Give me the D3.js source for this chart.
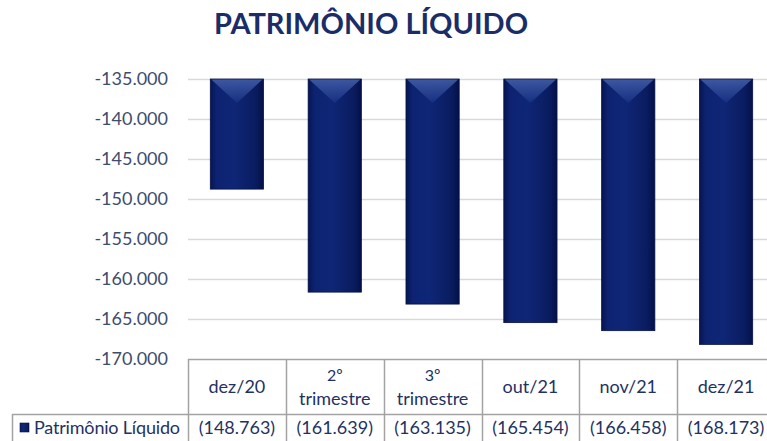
<!DOCTYPE html>
<html>
<head>
<meta charset="utf-8">
<script src="https://cdn.jsdelivr.net/npm/d3@7"></script>
<style>
  body { margin: 0; background: #fff; }
  svg { display: block; font-family: Lato, "Noto Sans", sans-serif; }
</style>
</head>
<body>
<svg width="767" height="441"></svg>
<script>
const TITLE = "PATRIMÔNIO LÍQUIDO";
const SERIES_NAME = "Patrimônio Líquido";
const categories = ["dez/20", "2º trimestre", "3º trimestre", "out/21", "nov/21", "dez/21"];
const categoryLines = [["dez/20"], ["2º", "trimestre"], ["3º", "trimestre"], ["out/21"], ["nov/21"], ["dez/21"]];
const values = [-148763, -161639, -163135, -165454, -166458, -168173];
const yTicks = [-135000, -140000, -145000, -150000, -155000, -160000, -165000, -170000];

const W = 767, H = 441;
const PLOT_LEFT = 188, PLOT_TOP = 79, PLOT_BOTTOM = 359;
const HEADER_BOTTOM = 414;

const locale = d3.formatLocale({ decimal: ",", thousands: ".", grouping: [3], currency: ["R$", ""], minus: "-" });
const fmtTick = locale.format(",d");
const fmtCell = v => v < 0 ? "(" + locale.format(",d")(-v) + ")" : locale.format(",d")(v);

const svg = d3.select("svg");

const x = d3.scaleBand()
  .domain(categories)
  .range([PLOT_LEFT, 775])
  .paddingInner(0.456)
  .paddingOuter(0.228);

const y = d3.scaleLinear()
  .domain([-135000, -170000])
  .range([PLOT_TOP, PLOT_BOTTOM]);

// gradients for the bevelled bars
const defs = svg.append("defs");
const body = defs.append("linearGradient").attr("id", "barBody")
  .attr("x1", "0%").attr("x2", "100%").attr("y1", "0%").attr("y2", "0%");
[["0%", "#061452"], ["12%", "#0d2372"], ["45%", "#0f2676"], ["85%", "#0a1c60"], ["100%", "#04104a"]]
  .forEach(([o, c]) => body.append("stop").attr("offset", o).attr("stop-color", c));
const bevel = defs.append("linearGradient").attr("id", "barBevel")
  .attr("x1", "0%").attr("x2", "0%").attr("y1", "0%").attr("y2", "100%");
[["0%", "#4560aa"], ["100%", "#173082"]]
  .forEach(([o, c]) => bevel.append("stop").attr("offset", o).attr("stop-color", c));

// title
svg.append("text")
  .attr("x", 371)
  .attr("y", 34)
  .attr("text-anchor", "middle")
  .attr("font-size", 29)
  .attr("font-weight", "bold")
  .attr("fill", "#1a2d68")
  .text(TITLE);

// gridlines
svg.append("g")
  .selectAll("line")
  .data(yTicks.slice(0, -1))
  .join("line")
  .attr("x1", PLOT_LEFT)
  .attr("x2", W)
  .attr("y1", d => Math.round(y(d)) + 0.5)
  .attr("y2", d => Math.round(y(d)) + 0.5)
  .attr("stroke", "#d9d9d9")
  .attr("stroke-width", 1.5);

// y axis labels
const yAxis = svg.append("g")
  .attr("transform", `translate(${PLOT_LEFT},0)`)
  .call(d3.axisLeft(y).tickValues(yTicks).tickFormat(fmtTick).tickSize(0).tickPadding(20));
yAxis.select(".domain").remove();
yAxis.selectAll("text")
  .attr("font-family", "Lato, 'Noto Sans', sans-serif")
  .attr("font-size", 18)
  .attr("fill", "#3d4d6e");

// bars
const bars = svg.append("g")
  .selectAll("g")
  .data(values)
  .join("g");

bars.append("rect")
  .attr("x", (d, i) => x(categories[i]))
  .attr("y", y(-135000))
  .attr("width", x.bandwidth())
  .attr("height", d => y(d) - y(-135000))
  .attr("fill", "url(#barBody)")
  .attr("stroke", "#061245")
  .attr("stroke-width", 0.8);

bars.append("path")
  .attr("d", (d, i) => {
    const x0 = x(categories[i]), x1 = x0 + x.bandwidth(), y0 = y(-135000);
    return `M${x0 + 1},${y0 + 0.5} L${x1 - 1},${y0 + 0.5} L${(x0 + x1) / 2},${y0 + 24} Z`;
  })
  .attr("fill", "url(#barBevel)")
  .attr("opacity", 0.85);

// data table
const table = svg.append("g");
const step = x.step();
const colLeft = i => PLOT_LEFT + i * step;
const border = "#a3a3a3";

table.append("line")
  .attr("x1", PLOT_LEFT).attr("x2", W)
  .attr("y1", PLOT_BOTTOM + 0.5).attr("y2", PLOT_BOTTOM + 0.5)
  .attr("stroke", border).attr("stroke-width", 1.5);
table.append("line")
  .attr("x1", 12).attr("x2", W)
  .attr("y1", HEADER_BOTTOM + 0.5).attr("y2", HEADER_BOTTOM + 0.5)
  .attr("stroke", border).attr("stroke-width", 1.5);
table.append("line")
  .attr("x1", 12.5).attr("x2", 12.5)
  .attr("y1", HEADER_BOTTOM).attr("y2", H)
  .attr("stroke", border).attr("stroke-width", 1.5);
table.selectAll("line.col")
  .data(d3.range(categories.length))
  .join("line")
  .attr("class", "col")
  .attr("x1", i => Math.round(colLeft(i)) + 0.5)
  .attr("x2", i => Math.round(colLeft(i)) + 0.5)
  .attr("y1", PLOT_BOTTOM)
  .attr("y2", H)
  .attr("stroke", border).attr("stroke-width", 1.5);

// header labels
const headers = table.selectAll("text.head")
  .data(categoryLines)
  .join("text")
  .attr("class", "head")
  .attr("text-anchor", "middle")
  .attr("font-size", 18)
  .attr("fill", "#1f3263");
headers.each(function (lines, i) {
  const cx = x(categories[i]) + x.bandwidth() / 2;
  const startY = lines.length === 1 ? 393 : 381;
  d3.select(this).selectAll("tspan")
    .data(lines)
    .join("tspan")
    .attr("x", cx)
    .attr("y", (l, j) => startY + j * 24)
    .attr("font-size", (l, j) => lines.length > 1 && j === 0 ? 16 : 18)
    .text(l => l);
});

// values row
table.selectAll("text.val")
  .data(values)
  .join("text")
  .attr("class", "val")
  .attr("x", (d, i) => x(categories[i]) + x.bandwidth() / 2)
  .attr("y", 434)
  .attr("text-anchor", "middle")
  .attr("font-size", 18)
  .attr("fill", "#1f3263")
  .text(fmtCell);

// legend cell
table.append("rect")
  .attr("x", 20).attr("y", 423)
  .attr("width", 9).attr("height", 9)
  .attr("fill", "url(#barBody)")
  .attr("stroke", "#061245").attr("stroke-width", 0.6);
table.append("text")
  .attr("x", 34)
  .attr("y", 434)
  .attr("font-size", 18)
  .attr("textLength", 146)
  .attr("lengthAdjust", "spacing")
  .attr("fill", "#1f3263")
  .text(SERIES_NAME);
</script>
</body>
</html>
